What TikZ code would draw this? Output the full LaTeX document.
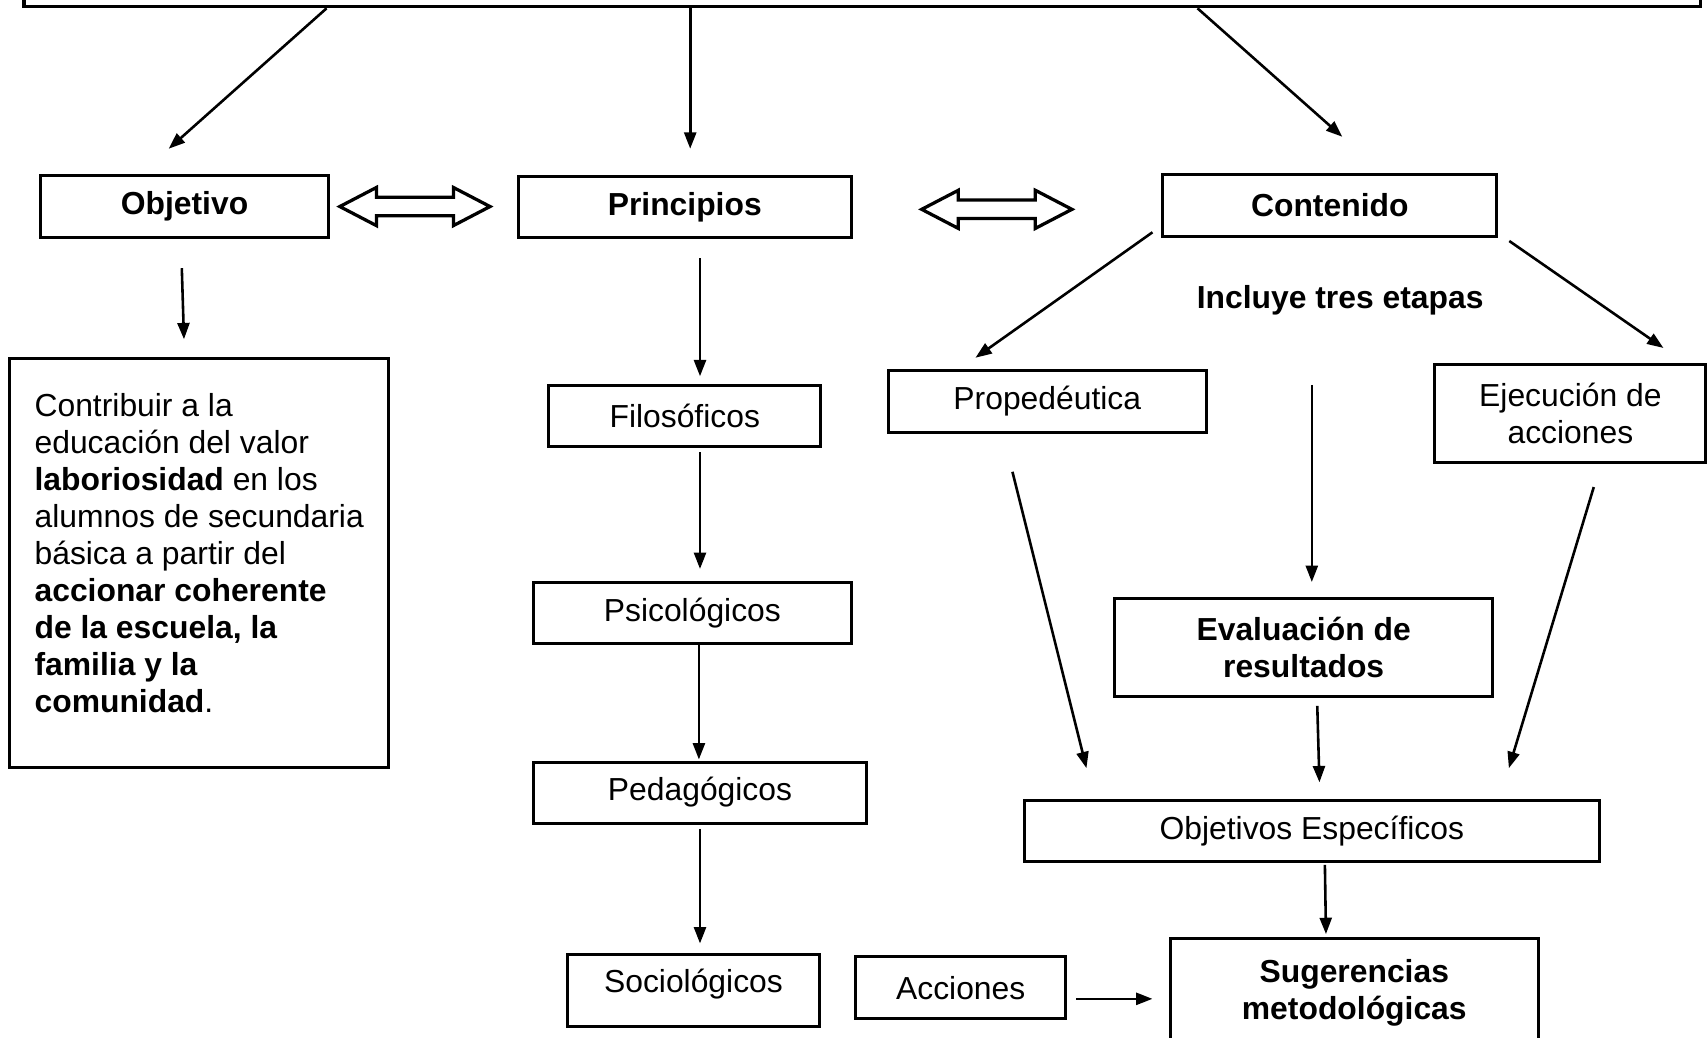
\documentclass[tikz,border=0pt]{standalone}
\usepackage{fontspec}
\setmainfont{Liberation Sans}
\usetikzlibrary{shapes.arrows,arrows.meta,positioning,calc}
\tikzset{
block/.style = {draw, line width=1.1pt, rectangle, inner sep=2pt, align=center, font=\fontsize{11.7}{13.6}\selectfont},
bblock/.style = {block, font=\fontsize{11.7}{13.6}\selectfont\bfseries},
label/.style = {font=\fontsize{11.7}{13.6}\selectfont\bfseries},
dblarr/.style = {draw, line width=1.2pt, double arrow, double arrow tip angle=55, double arrow head extend=3.6pt, inner xsep=0pt, inner ysep=2.8pt, minimum height=55.2pt},
arr/.style = {-{Triangle[length=6pt,width=4.4pt]}, line width=0.95pt}
}

\begin{document}
\begin{tikzpicture}[x=0.4pt, y=-0.4pt]
    \clip (0,0) rectangle (1568,953);
    % top row
    \node [block, line width=1.3pt, minimum width=616pt, minimum height=14.4pt] (top) at (792,-12) {};
    \node [bblock, minimum width=106pt, minimum height=22.8pt] (obj) at (169.5,189.5) {Objetivo};
    \node [bblock, minimum width=122.4pt, minimum height=22.4pt] (prin) at (629,190) {Principios};
    \node [bblock, minimum width=122.8pt, minimum height=22.8pt] (cont) at (1221.5,188.5) {Contenido};
    \node [dblarr] (da1) at ($(obj.east)!0.454!(prin.west)$) {};
    \node [dblarr] (da2) at ($(prin.east)!0.467!(cont.west)+(0,3)$) {};
    \draw [arr] ($(top.south)+(-492,0)$) -- ($(obj.north)+(-14.5,-23)$);
    \draw [arr] ($(top.south)+(-158,0)$) -- ($(prin.north)+(5,-24)$);
    \draw [arr] ($(top.south)+(308,0)$) -- ($(cont.north)+(11.5,-33)$);

    % objetivo
    \node [block, minimum width=139.2pt, minimum height=150.4pt] (goal) at (183,517) {};
    \node [font=\fontsize{11.7}{13.6}\selectfont, align=left, inner sep=0pt] (goaltext) at (183,508) {Contribuir a la\\educación del valor\\\textbf{laboriosidad} en los\\alumnos de secundaria\\básica a partir del\\\textbf{accionar coherente}\\\textbf{de la escuela, la}\\\textbf{familia y la}\\\textbf{comunidad}.};
    \draw [arr] ($(obj.south)+(-2.5,27)$) -- ($(goal.north)+(-14,-16)$);

    % principios
    \node [block, minimum width=100pt, minimum height=22.4pt] (filo) at (629,382) {Filosóficos};
    \node [block, minimum width=116.8pt, minimum height=22.4pt] (psico) at (636,563) {Psicológicos};
    \node [block, minimum width=122.4pt, minimum height=22.4pt] (peda) at (643,728) {Pedagógicos};
    \node [block, minimum width=92.8pt, minimum height=26.4pt] (socio) at (637,910) {};
    \node [font=\fontsize{11.7}{13.6}\selectfont] at ($(socio)+(0,-6)$) {Sociológicos};
    \draw [arr] ($(prin.south)+(14,18)$) -- ($(filo.north)+(14,-7)$);
    \draw [arr] ($(filo.south)+(14,4)$) -- ($(psico.north)+(7,-11)$);
    \draw [arr] ($(psico.south)+(6,0)$) -- ($(peda.north)+(-1,-1)$);
    \draw [arr] ($(peda.south)+(0,4)$) -- ($(socio.north)+(6,-9)$);

    % contenido
    \node [label] (incl) at (1231,276) {Incluye tres etapas};
    \node [block, minimum width=116.8pt, minimum height=22.8pt] (prop) at (962,368.5) {Propedéutica};
    \node [block, minimum width=99.6pt, minimum height=36pt] (ejec) at (1442.5,380) {Ejecución de\\acciones};
    \node [bblock, minimum width=138.8pt, minimum height=36pt] (eval) at (1197.5,595) {Evaluación de\\resultados};
    \node [block, minimum width=211.2pt, minimum height=22.4pt] (objesp) at (1205,763) {Objetivos Específicos};
    \node [bblock, minimum width=135.2pt, minimum height=40pt, anchor=north] (sug) at (1244,861) {Sugerencias\\metodológicas};
    \node [block, minimum width=77.2pt, minimum height=22.8pt] (acc) at (882.5,907.5) {Acciones};
    \draw [arr] ($(cont.south west)+(-8,-5)$) -- ($(prop.north)+(-66,-10)$);
    \draw [arr] ($(cont.south east)+(10,3)$) -- ($(ejec.north)+(85.5,-14)$);
    \draw [arr] ($(incl.south)+(-26,55)$) -- ($(eval.north)+(7.5,-14)$);
    \draw [arr] ($(prop.south)+(-32,35)$) -- ($(objesp.north)+(-207,-28)$);
    \draw [arr] ($(ejec.south)+(21.5,21)$) -- ($(objesp.north)+(181,-28)$);
    \draw [arr] ($(eval.south)+(12.5,7)$) -- ($(objesp.north)+(7,-15)$);
    \draw [arr] ($(objesp.south)+(12,2)$) -- ($(sug.north)+(-26,-3)$);
    \draw [arr] ($(acc.east)+(8,10)$) -- ($(sug.west |- acc.east)+(-15,10)$);
\end{tikzpicture}
\end{document}
